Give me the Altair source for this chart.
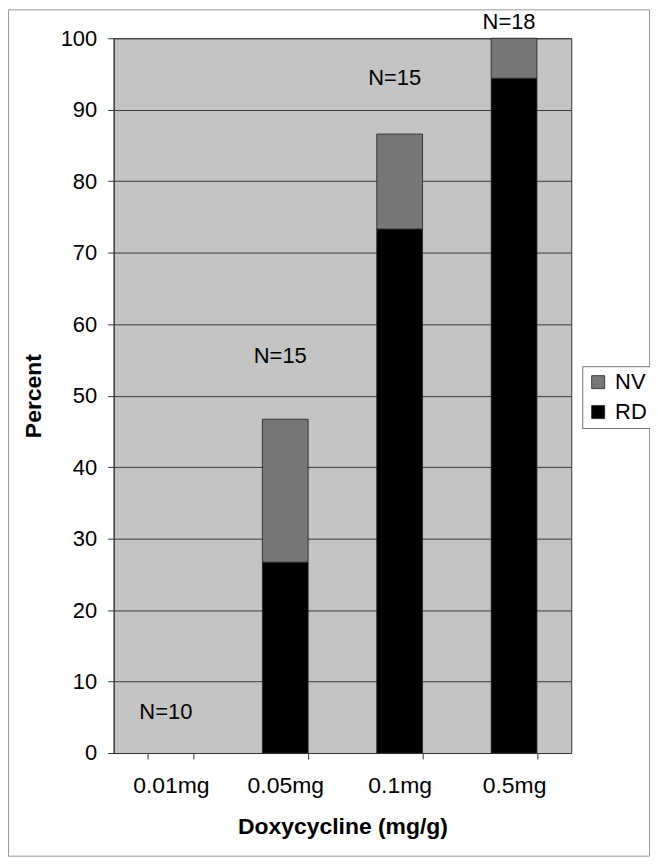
import altair as alt
import pandas as pd

categories = ["0.01mg", "0.05mg", "0.1mg", "0.5mg"]
rd_values = [0.0, 26.7, 73.3, 94.4]
nv_values = [0.0, 20.0, 13.3, 5.6]
series_names = ["NV", "RD"]
n_labels = ["N=10", "N=15", "N=15", "N=18"]
n_label_y = [5.8, 55.5, 94.4, 102.2]

rows = []
for c, r, n in zip(categories, rd_values, nv_values):
    rows.append({"dose": c, "series": "RD", "value": r, "order": 0})
    rows.append({"dose": c, "series": "NV", "value": n, "order": 1})
bars_df = pd.DataFrame(rows)
labels_df = pd.DataFrame({"dose": categories, "label": n_labels, "y": n_label_y})

FONT = "Liberation Sans"

x_enc = alt.X("dose:N", sort=categories, title="Doxycycline (mg/g)",
              scale=alt.Scale(domain=categories, paddingInner=0.6, paddingOuter=0.3),
              axis=alt.Axis(labelAngle=0, labelFontSize=23, labelFont=FONT, labelColor="black",
                            titleFontSize=23, titleFont=FONT, titleFontWeight="bold", titleColor="black",
                            tickBand="extent", tickSize=6, tickColor="#333", domainColor="#333",
                            labelPadding=16, titlePadding=18, grid=False))

bars = alt.Chart(bars_df).transform_filter(alt.datum.value > 0).mark_bar(
    stroke="#222", strokeWidth=0.8).encode(
    x=x_enc,
    y=alt.Y("value:Q", stack="zero", title="Percent",
            scale=alt.Scale(domain=[0, 100], nice=False),
            axis=alt.Axis(values=list(range(0, 101, 10)), labelFontSize=22, labelFont=FONT,
                          labelColor="black", titleFontSize=23, titleFont=FONT,
                          titleFontWeight="bold", titleColor="black",
                          tickSize=6, tickColor="#333", domainColor="#333", labelPadding=11,
                          titlePadding=15, gridColor="#3a3a3a", gridWidth=1)),
    color=alt.Color("series:N", sort=series_names,
                    scale=alt.Scale(domain=series_names, range=["#777777", "#000000"]),
                    legend=alt.Legend(title=None, orient="none", legendX=470, legendY=329,
                                      labelFontSize=22, labelFont=FONT, labelColor="black",
                                      symbolType="square", symbolSize=170, symbolStrokeColor="#222",
                                      symbolStrokeWidth=0.8, strokeColor="#777", padding=5,
                                      rowPadding=8, labelOffset=6, fillColor="white")),
    order=alt.Order("order:Q", sort="ascending"),
)

text = alt.Chart(labels_df).mark_text(fontSize=22, font=FONT, color="black", dx=-5).encode(
    x=alt.X("dose:N", sort=categories), y="y:Q", text="label:N")

frame = alt.Chart(labels_df).transform_filter(alt.datum.label == "N=10").mark_rect(
    fillOpacity=0, color="white", stroke="#999", strokeWidth=1).encode(
    x=alt.value(-105.5), x2=alt.value(537.5), y=alt.value(-28.5), y2=alt.value(820.5))

chart = alt.layer(bars, text, frame).properties(
    width=459, height=717,
    autosize=alt.AutoSizeParams(type="none"),
    padding={"left": 106, "top": 29, "right": 79, "bottom": 104},
).configure(background="white").configure_view(fill="#c4c4c4", stroke="#333", strokeWidth=1)

chart.save("out.html", embed_options={"renderer": "svg", "actions": False})
